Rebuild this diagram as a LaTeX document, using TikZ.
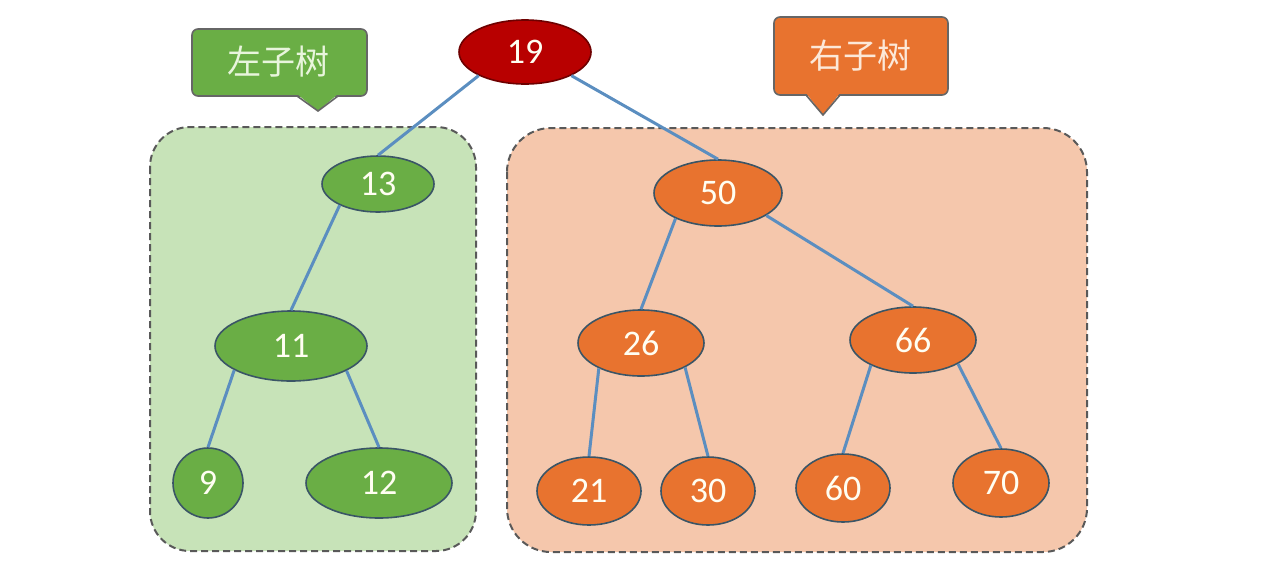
\documentclass[tikz,border=0pt]{standalone}
\usepackage{fontspec}
\setmainfont{Carlito}
\newfontfamily\cjk{Noto Sans CJK SC}
\usetikzlibrary{shapes.geometric}
\definecolor{gnode}{HTML}{6AAE45}
\definecolor{onode}{HTML}{E8732F}
\definecolor{rnode}{HTML}{B80000}
\definecolor{nborder}{HTML}{3A5566}
\definecolor{edgec}{HTML}{5B8EC0}
\definecolor{gbox}{HTML}{C7E3B8}
\definecolor{obox}{HTML}{F5C7AC}
\definecolor{gtext}{HTML}{E8F5DC}
\definecolor{otext}{HTML}{FCE8D8}
\tikzset{
  tnode/.style={ellipse, draw=nborder, line width=1.6pt, inner sep=0pt,
    text=white!95!yellow, font=\fontsize{36}{38}\selectfont},
  gn/.style={tnode, fill=gnode},
  on/.style={tnode, fill=onode},
  edge/.style={draw=edgec, line width=3pt},
  regionbox/.style={draw=black!65, dashed, dash pattern=on 7pt off 4pt, line width=2pt},
  callout/.style={draw=black!60, line width=1.6pt},
  ctext/.style={font=\cjk\fontsize{34}{36}\selectfont}
}
\begin{document}
\begin{tikzpicture}[x=1pt,y=-1pt]
\useasboundingbox (0,0) rectangle (1271,574);
% region boxes
\draw[regionbox, fill=gbox, rounded corners=40pt] (150,127) rectangle (476,551);
\draw[regionbox, fill=obox, rounded corners=44pt] (507,128) rectangle (1087,552);
% callouts
\draw[callout, fill=gnode, rounded corners=6pt] (192,29) rectangle (367,96);
\fill[gnode] (297,94) -- (338,94) -- (318,111) -- cycle;
\draw[callout] (297,96) -- (318,111) -- (338,96);
\node[ctext, text=gtext] (lt) at (278,62) {左子树};
\draw[callout, fill=onode, rounded corners=6pt] (774,17) rectangle (948,95);
\fill[onode] (806,93) -- (840,93) -- (823,115) -- cycle;
\draw[callout] (806,95) -- (823,115) -- (840,95);
\node[ctext, text=otext] (rt) at (860,56) {右子树};
% nodes
\node[tnode, fill=rnode, draw=rnode!60!black, minimum width=132pt, minimum height=64pt] (n19) at (525,52) {19};
\node[gn, minimum width=112pt, minimum height=56pt] (n13) at (378,184) {13};
\node[gn, minimum width=152pt, minimum height=70pt] (n11) at (291,346) {11};
\node[gn, minimum width=70pt, minimum height=70pt] (n9) at (208,483) {9};
\node[gn, minimum width=146pt, minimum height=70pt] (n12) at (379,483) {12};
\node[on, minimum width=128pt, minimum height=66pt] (n50) at (718,193) {50};
\node[on, minimum width=126pt, minimum height=66pt] (n26) at (641,343) {26};
\node[on, minimum width=126pt, minimum height=66pt] (n66) at (913,340) {66};
\node[on, minimum width=104pt, minimum height=68pt] (n21) at (589,491) {21};
\node[on, minimum width=94pt, minimum height=68pt] (n30) at (708,491) {30};
\node[on, minimum width=94pt, minimum height=68pt] (n60) at (843,488) {60};
\node[on, minimum width=96pt, minimum height=68pt] (n70) at (1001,483) {70};
% edges
\draw[edge] (n19.207) -- (n13.north);
\draw[edge] (n19.333) -- (n50.north);
\draw[edge] (n13.209) -- (n11.north);
\draw[edge] (n11.203) -- (n9.north);
\draw[edge] (n11.336) -- (n12.north);
\draw[edge] (n50.211) -- (n26.north);
\draw[edge] (n50.335) -- (n66.north);
\draw[edge] (n26.211) -- (n21.north);
\draw[edge] (n26.331) -- (n30.north);
\draw[edge] (n66.211) -- (n60.north);
\draw[edge] (n66.332) -- (n70.north);
\end{tikzpicture}
\end{document}
